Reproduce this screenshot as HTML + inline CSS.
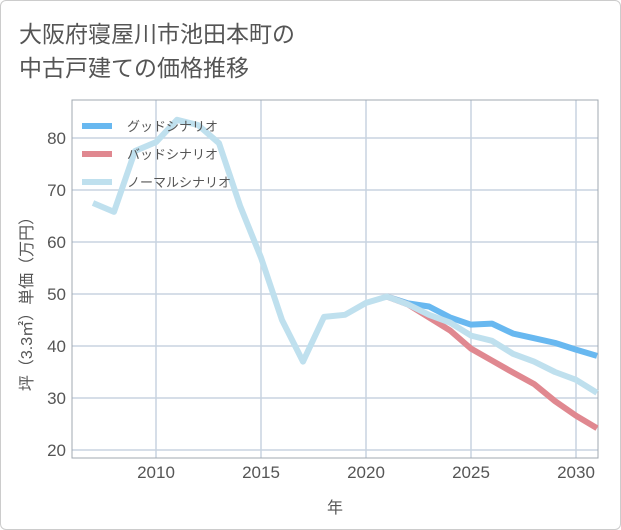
<!DOCTYPE html>
<html><head><meta charset="utf-8"><style>
body{margin:0;background:#fff;font-family:"Liberation Sans","Noto Sans CJK JP",sans-serif;}
#wrap{position:relative;width:619px;height:528px;border:1px solid #ccc;border-radius:6px;overflow:hidden;}
#title{position:absolute;left:18px;top:16px;font-size:23px;line-height:34px;color:#555;}
</style></head><body>
<div id="wrap">
<div id="title">大阪府寝屋川市池田本町の<br>中古戸建ての価格推移</div>
<svg id="chart" width="621" height="530" style="position:absolute;left:-1px;top:-1px"></svg>
</div>
<script>
const years=[2007,2008,2009,2010,2011,2012,2013,2014,2015,2016,2017,2018,2019,2020,2021,2022,2023,2024,2025,2026,2027,2028,2029,2030,2031];
const normal=[67.5,65.8,77.5,79.2,83.5,82.5,79,67,57,45,37,45.6,46,48.3,49.5,48,46,44.5,42,41,38.5,37,35,33.5,31];
const goodYears=[2021,2022,2023,2024,2025,2026,2027,2028,2029,2030,2031];
const good=[49.5,48.2,47.6,45.5,44.1,44.3,42.4,41.5,40.6,39.3,38.1];
const bad=[49.5,48,45.5,43,39.5,37.2,34.9,32.7,29.4,26.6,24.2];
const yTicks=[20,30,40,50,60,70,80];
const xTicks=[2010,2015,2020,2025,2030];
const L=72,R=598,T=100,B=458;
const x=v=>156+(v-2010)*21;
const y=v=>450-(v-20)*5.2;
const svg=document.getElementById('chart');
const NS='http://www.w3.org/2000/svg';
function mk(t,a){const e=document.createElementNS(NS,t);for(const k in a)e.setAttribute(k,a[k]);svg.appendChild(e);return e;}
yTicks.forEach(v=>{
 const g=mk('line',{x1:L,x2:R,y1:y(v),y2:y(v),stroke:'#c8d4e0','stroke-width':1.5});
 
 
 const t=mk('text',{x:L-6,y:y(v)+6,'text-anchor':'end','font-size':17,fill:'#555'});t.textContent=v;
 
 
});
xTicks.forEach(v=>{
 const g=mk('line',{x1:x(v),x2:x(v),y1:T,y2:B,stroke:'#c8d4e0','stroke-width':1.5});
 
 
 const t=mk('text',{x:x(v),y:B+20,'text-anchor':'middle','font-size':17,fill:'#555'});t.textContent=v;
 
 
});
const fr=mk('rect',{x:L,y:T,width:R-L,height:B-T,fill:'none',stroke:'#a0a8b0','stroke-width':1});


function line(xs,vs,c,n){const p=mk('polyline',{points:xs.map((yy,i)=>x(yy)+','+y(vs[i])).join(' '),fill:'none',stroke:c,'stroke-width':6,'stroke-linejoin':'round'});
 
 }
line(goodYears,good,'#68b8f0','good-scenario-line');
line(goodYears,bad,'#e08890','bad-scenario-line');
line(years,normal,'#bfe0ee','normal-scenario-line');
const leg=[['グッドシナリオ','#68b8f0'],['バッドシナリオ','#e08890'],['ノーマルシナリオ','#bfe0ee']];
leg.forEach((l,i)=>{const yy=126+i*28;
 const s=mk('line',{x1:82,x2:112,y1:yy,y2:yy,stroke:l[1],'stroke-width':6});
 
 
 const t=mk('text',{x:127,y:yy+5,'font-size':13,fill:'#555'});t.textContent=l[0];
 
 });
const yt=mk('text',{transform:'translate(32,300) rotate(-90)','text-anchor':'middle','font-size':16,fill:'#555'});yt.textContent='坪（3.3㎡）単価（万円）';


const xt=mk('text',{x:335,y:513,'text-anchor':'middle','font-size':16,fill:'#555'});xt.textContent='年';


</script>
</body></html>
